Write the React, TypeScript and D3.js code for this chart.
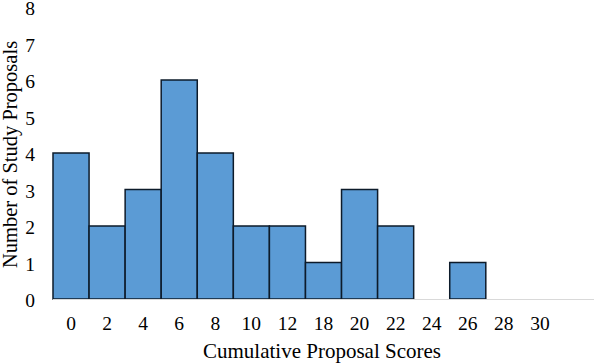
import React from "react";
import * as d3 from "d3";

// histogram of cumulative scores
const scoreLabels = ["0", "2", "4", "6", "8", "10", "12", "18", "20", "22", "24", "26", "28", "30", ""];
const proposalCounts = [4, 2, 3, 6, 4, 2, 2, 1, 3, 2, 0, 1, 0, 0, 0];
const yTicks = [0, 1, 2, 3, 4, 5, 6, 7, 8];

const W = 594;
const H = 363;
const margin = { top: 7, right: 0, bottom: 64, left: 53 };

export default function App() {
  const x = d3
    .scaleBand<number>()
    .domain(d3.range(scoreLabels.length))
    .range([margin.left, W - margin.right])
    .padding(0);
  const y = d3.scaleLinear().domain([0, 8]).range([H - margin.bottom, margin.top]);
  const font = "'Liberation Serif', 'Times New Roman', serif";

  return (
    <svg width={W} height={H} style={{ position: "absolute", left: 0, top: 0, background: "#fff" }}>
      {/* y tick labels, no axis line */}
      {yTicks.map((t) => (
        <text key={t} x={35} y={y(t) + 1.5} dy="0.35em" textAnchor="end" fontFamily={font} fontSize={19.5} fill="#000">
          {t}
        </text>
      ))}
      {proposalCounts.map((v, i) =>
        v > 0 ? (
          <rect
            key={i}
            x={x(i)}
            y={y(v)}
            width={x.bandwidth()}
            height={y(0) - y(v)}
            fill="#5b9bd5"
            stroke="#0d1b2a"
            strokeWidth={1.5}
          />
        ) : null
      )}
      <line x1={margin.left} x2={W - margin.right} y1={y(0) + 0.5} y2={y(0) + 0.5} stroke="#d9d9d9" strokeWidth={1.2} />
      {scoreLabels.map((s, i) => (
        <text key={i} x={x(i)! + x.bandwidth() / 2} y={330} textAnchor="middle" fontFamily={font} fontSize={19.5} fill="#000">
          {s}
        </text>
      ))}
      <text x={322} y={358} textAnchor="middle" fontFamily={font} fontSize={21} fill="#000">
        Cumulative Proposal Scores
      </text>
      <text
        transform={`translate(16.5,${154.5}) rotate(-90)`}
        textAnchor="middle"
        fontFamily={font}
        fontSize={20.5}
        fill="#000"
      >
        Number of Study Proposals
      </text>
    </svg>
  );
}
